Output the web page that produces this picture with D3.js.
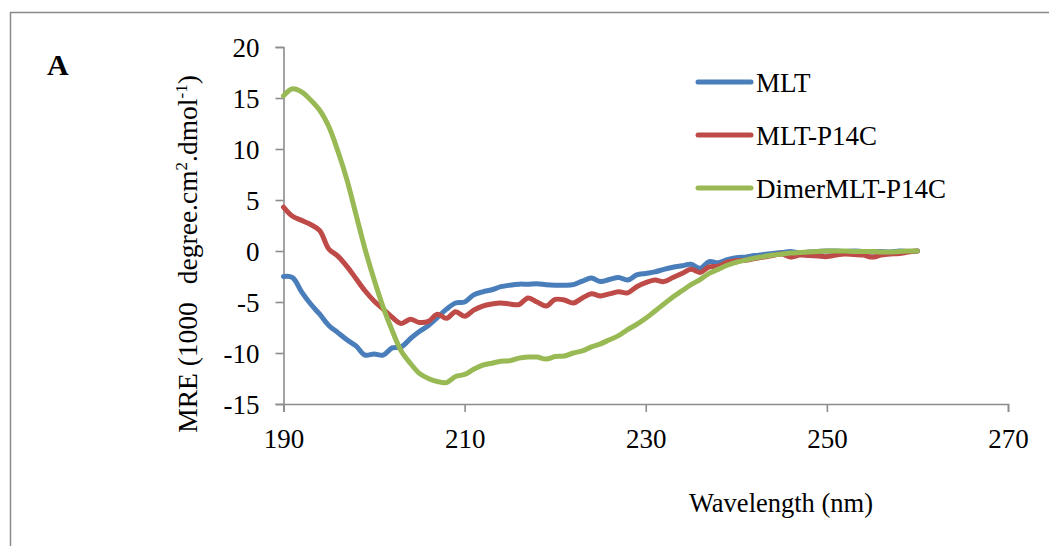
<!DOCTYPE html>
<html><head><meta charset="utf-8">
<script src="https://cdn.jsdelivr.net/npm/d3@7"></script>
<style>
html,body{margin:0;padding:0;background:#fff;}
svg{display:block;}
svg text{font-family:"Liberation Serif","Times New Roman",serif !important;fill:#000;}
</style></head>
<body>
<svg id="chart" width="1049" height="546" font-family="Liberation Serif"></svg>
<script>
// ---- data ----
const wavelengths = d3.range(190, 261); // 190..260 nm
const seriesNames = ["MLT", "MLT-P14C", "DimerMLT-P14C"];
const mlt = [
 -2.5,-2.6,-4.0,-5.2,-6.2,-7.3,-8.0,-8.7,-9.3,-10.2,
 -10.1,-10.2,-9.5,-9.4,-8.6,-7.9,-7.3,-6.5,-5.7,-5.1,
 -5.0,-4.3,-4.0,-3.8,-3.5,-3.35,-3.25,-3.25,-3.2,-3.3,
 -3.35,-3.35,-3.3,-2.95,-2.65,-3.0,-2.8,-2.6,-2.85,-2.35,
 -2.2,-2.05,-1.8,-1.6,-1.45,-1.3,-1.7,-1.05,-1.15,-0.85,
 -0.65,-0.6,-0.45,-0.35,-0.25,-0.15,-0.05,-0.2,-0.1,-0.05,
 0,0,-0.05,0,-0.05,-0.1,-0.05,-0.1,0,-0.05,0
];
const mltP14C = [
 4.3,3.4,3.0,2.6,2.0,0.2,-0.5,-1.5,-2.7,-3.9,
 -4.9,-5.7,-6.5,-7.1,-6.7,-7.0,-6.9,-6.2,-6.6,-5.95,
 -6.4,-5.8,-5.4,-5.2,-5.1,-5.2,-5.25,-4.6,-5.0,-5.4,
 -4.75,-4.8,-5.1,-4.6,-4.2,-4.4,-4.2,-4.0,-4.1,-3.5,
 -3.1,-2.85,-3.0,-2.6,-2.2,-1.8,-2.1,-1.55,-1.5,-1.1,
 -0.95,-0.9,-0.75,-0.6,-0.45,-0.3,-0.6,-0.4,-0.45,-0.5,
 -0.55,-0.4,-0.3,-0.35,-0.4,-0.6,-0.4,-0.3,-0.25,-0.1,0
];
const dimerMltP14C = [
 15.2,15.9,15.6,14.8,13.8,12.2,9.8,7.0,3.6,0.2,
 -2.8,-5.5,-7.8,-9.8,-11.0,-12.0,-12.5,-12.8,-12.9,-12.3,
 -12.1,-11.6,-11.2,-11.0,-10.8,-10.75,-10.5,-10.4,-10.4,-10.6,
 -10.35,-10.3,-10.0,-9.8,-9.4,-9.1,-8.7,-8.3,-7.7,-7.2,
 -6.6,-5.9,-5.2,-4.5,-3.9,-3.3,-2.8,-2.2,-1.8,-1.4,
 -1.1,-0.9,-0.7,-0.55,-0.4,-0.3,-0.2,-0.15,-0.1,-0.05,
 0,0,0,-0.05,-0.05,-0.05,-0.1,-0.1,-0.05,0,0
];
const xTicks = [190, 210, 230, 250, 270];
const yTicks = [-15, -10, -5, 0, 5, 10, 15, 20];
const colors = ["#4A7EBB", "#BE4B48", "#98B954"];

// ---- layout ----
const svg = d3.select("#chart");
const x = d3.scaleLinear().domain([190, 270]).range([283.5, 1008]);
const y = d3.scaleLinear().domain([-15, 20]).range([404, 47]);
const fmt = d => String(d); // plain hyphen-minus like the original

// outer frame
svg.append("path")
  .attr("d", "M10.5,546 L10.5,12.5 L1049,12.5")
  .attr("fill", "none").attr("stroke", "#8a8a8a").attr("stroke-width", 1.5);

// panel label
svg.append("text").attr("x", 47).attr("y", 75)
  .style("font-size", "30px").style("font-weight", "bold").text("A");

// axes
const axisColor = "#8c8c8c";
const gx = svg.append("g").attr("transform", `translate(0,${y(-15)})`)
  .call(d3.axisBottom(x).tickValues(xTicks).tickFormat(fmt).tickSize(8).tickPadding(12).tickSizeOuter(8));
const gy = svg.append("g").attr("transform", `translate(${x(190)},0)`)
  .call(d3.axisLeft(y).tickValues(yTicks).tickFormat(fmt).tickSize(8).tickPadding(16).tickSizeOuter(8));
[gx, gy].forEach(g => {
  g.attr("font-family", "Liberation Serif");
  g.selectAll("path,line").attr("stroke", axisColor).attr("stroke-width", 1.6);
  g.selectAll("text").style("font-size", "27px").attr("fill", "#000");
});
gx.selectAll("text").attr("dy", "0.9em");
gy.selectAll("text").attr("dy", "0.35em");

// series lines
const series = [mlt, mltP14C, dimerMltP14C];
const line = d3.line()
  .x((d, i) => x(wavelengths[i]))
  .y(d => y(d))
  .curve(d3.curveCatmullRom.alpha(0.5));
series.forEach((s, k) => {
  svg.append("path").datum(s)
    .attr("d", line)
    .attr("fill", "none")
    .attr("stroke", colors[k])
    .attr("stroke-width", 5)
    .attr("stroke-linejoin", "round")
    .attr("stroke-linecap", "round");
});

// legend
const legendY = [82, 135, 188];
seriesNames.forEach((n, k) => {
  svg.append("line")
    .attr("x1", 698).attr("x2", 751)
    .attr("y1", legendY[k]).attr("y2", legendY[k])
    .attr("stroke", colors[k]).attr("stroke-width", 5).attr("stroke-linecap", "round");
  svg.append("text").attr("x", 756).attr("y", legendY[k] + 10)
    .style("font-size", "27px").text(n);
});

// x title
svg.append("text").attr("x", 781).attr("y", 512)
  .attr("text-anchor", "middle").style("font-size", "26.5px").text("Wavelength (nm)");

// y title
const yt = svg.append("text")
  .attr("transform", "translate(197,254) rotate(-90)")
  .attr("text-anchor", "middle").style("font-size", "27.5px");
yt.append("tspan").text("MRE (1000");
yt.append("tspan").attr("dx", 18).text("degree.cm");
yt.append("tspan").attr("dy", -10).style("font-size", "17px").text("2");
yt.append("tspan").attr("dy", 10).text(".dmol");
yt.append("tspan").attr("dy", -10).style("font-size", "17px").text("-1");
yt.append("tspan").attr("dy", 10).text(")");
</script>
</body></html>
